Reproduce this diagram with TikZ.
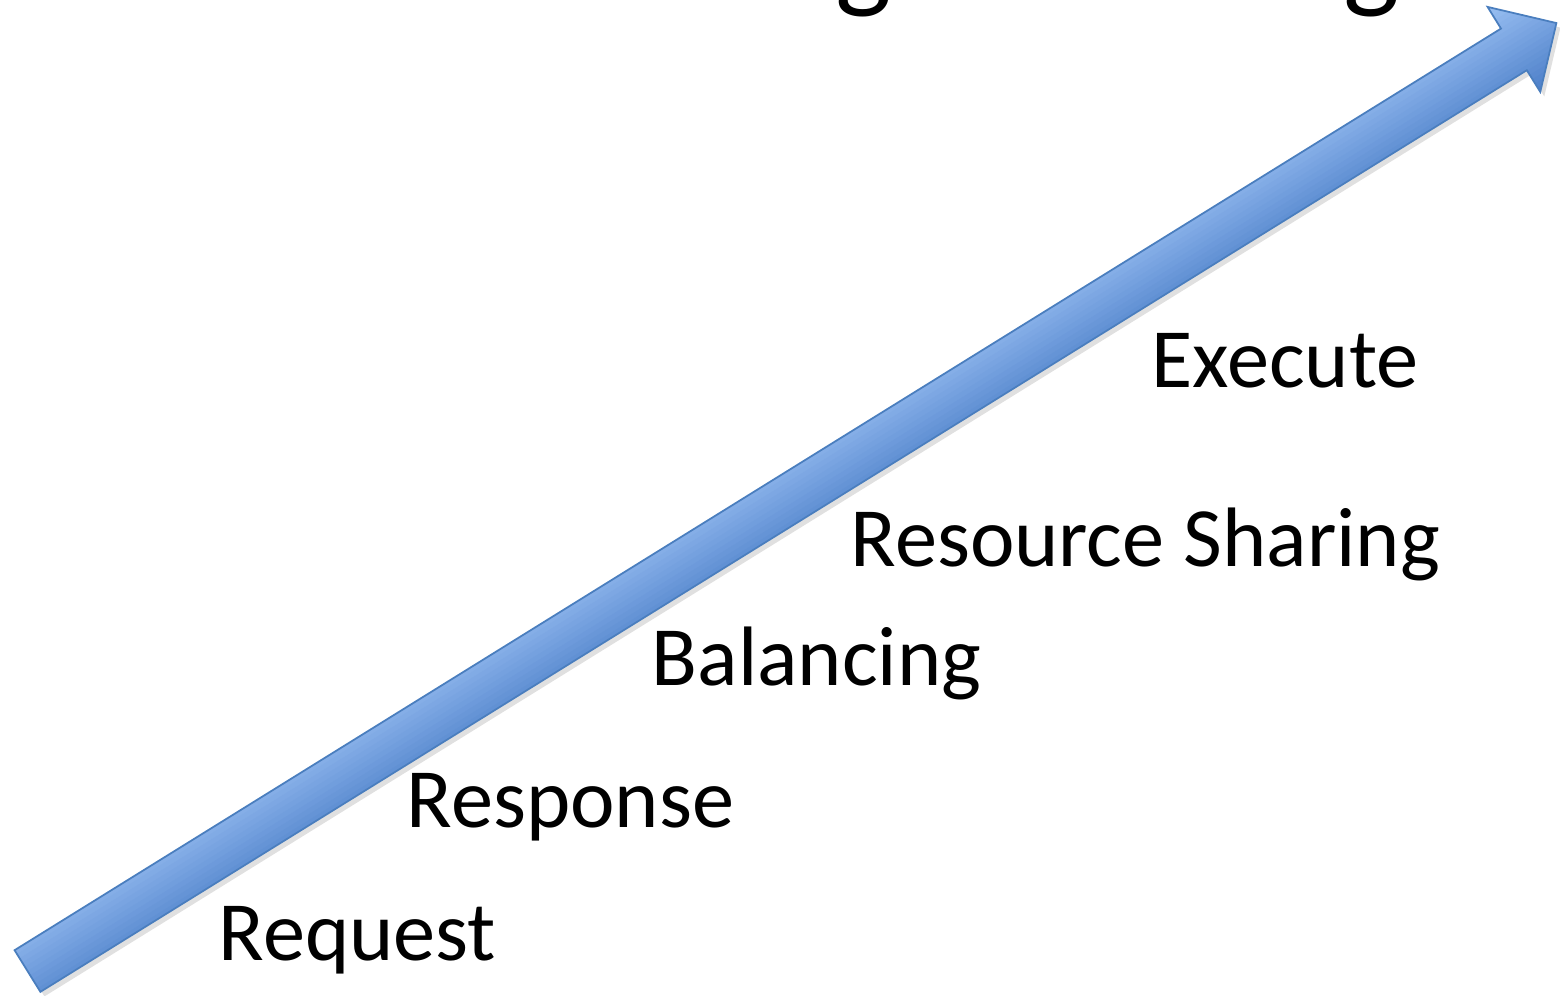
\documentclass[tikz,border=0pt]{standalone}
\usepackage{fontspec}
\setmainfont{Carlito}
\usepackage{xcolor}
\usepackage{tikz}
\definecolor{arwlight}{RGB}{152,190,241}
\definecolor{arwdark}{RGB}{74,125,200}
\definecolor{arwedge}{RGB}{74,126,190}

% outline of the block arrow, drawn along the x axis
\newcommand{\arwpath}{(0,0.245) -- (17.49,0.245) -- (17.49,0.5) -- (17.99,0)
    -- (17.49,-0.5) -- (17.49,-0.245) -- (0,-0.245) -- cycle}

\begin{document}
\begin{tikzpicture}[
    phase/.style={anchor=base west, inner sep=0pt, font=\fontsize{24}{29}\selectfont},
    heading/.style={anchor=base, inner sep=0pt, font=\fontsize{34}{40}\selectfont},
    arwline/.style={draw=arwedge, line width=0.5pt, line join=miter}
]
\useasboundingbox (0,0) rectangle (15.6,9.95);

% heading above the page edge, only its descenders show
\node[heading] (h1) at (8.64,9.98) {g};
\node[heading] (h2) at (13.72,9.98) {g};

% the rising block arrow
\begin{scope}[shift={(0.275,0.24)}, rotate=31.8]
\fill[black, opacity=0.12, shift={(0.01,-0.06)}] \arwpath;
\begin{scope}
\clip \arwpath;
\foreach \i in {0,...,19}
    \fill[arwlight!\fpeval{100-5*\i}!arwdark]
        (-0.1,0.5-0.05*\i) rectangle (18.1,0.45-0.05*\i-0.01);
\end{scope}
\path[arwline] \arwpath;
\end{scope}

\node[phase] (p1) at (2.18,0.35) {Request};
\node[phase] (p2) at (4.06,1.68) {Response};
\node[phase] (p3) at (6.51,3.10) {Balancing};
\node[phase] (p4) at (8.50,4.29) {Resource Sharing};
\node[phase] (p5) at (11.51,6.08) {Execute};
\end{tikzpicture}
\end{document}
